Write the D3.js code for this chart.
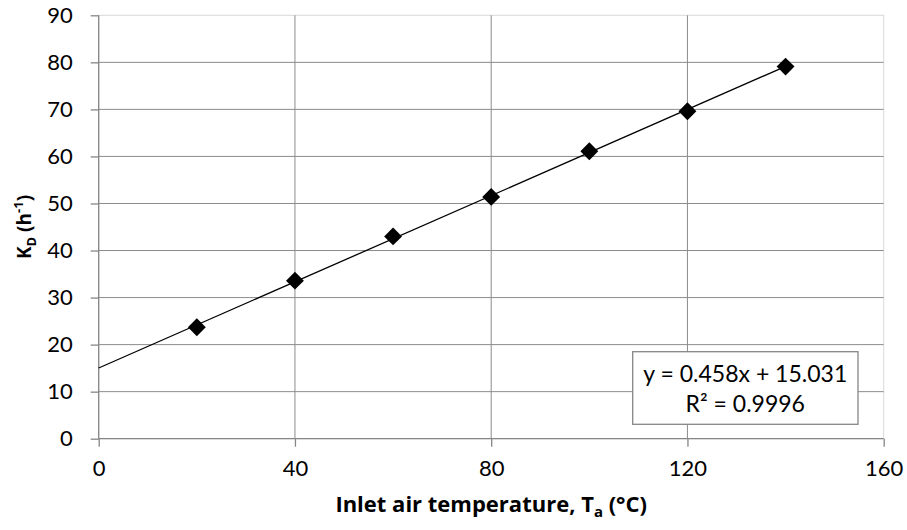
<!DOCTYPE html>
<html>
<head>
<meta charset="utf-8">
<script src="https://cdn.jsdelivr.net/npm/d3@7"></script>
<style>
  body { margin: 0; background: #fff; }
  svg { display: block; font-family: Lato, "Open Sans", sans-serif; }
</style>
</head>
<body>
<div id="chart"></div>
<script>
/* data */
const tempC = [20, 40, 60, 80, 100, 120, 140];
const kD = [23.7, 33.6, 43.0, 51.4, 61.1, 69.6, 79.1];
const fitSlope = 0.458;
const fitIntercept = 15.031;
const fitRange = [0, 140];
const xTicks = [0, 40, 80, 120, 160];
const yTicks = [0, 10, 20, 30, 40, 50, 60, 70, 80, 90];
const eqLines = ["y = 0.458x + 15.031", "R² = 0.9996"];

const W = 907, H = 530;
const margin = { top: 15.3, right: 23.3, bottom: 91.3, left: 98.7 };
const w = W - margin.left - margin.right;
const h = H - margin.top - margin.bottom;

const svg = d3.select("#chart").append("svg")
  .attr("width", W).attr("height", H);

const g = svg.append("g").attr("transform", `translate(${margin.left},${margin.top})`);

const x = d3.scaleLinear().domain([0, 160]).range([0, w]);
const y = d3.scaleLinear().domain([0, 90]).range([h, 0]);

/* plot area border (light) */
g.append("rect").attr("x", 0).attr("y", 0).attr("width", w).attr("height", h)
  .attr("fill", "none").attr("stroke", "#d9d9d9").attr("stroke-width", 1);

/* gridlines */
g.append("g").selectAll("line").data(yTicks.filter(d => d > 0 && d < 90)).enter().append("line")
  .attr("x1", 0).attr("x2", w)
  .attr("y1", d => y(d)).attr("y2", d => y(d))
  .attr("stroke", "#8c8c8c").attr("stroke-width", 1);
g.append("g").selectAll("line").data(xTicks.filter(d => d > 0 && d < 160)).enter().append("line")
  .attr("y1", 0).attr("y2", h)
  .attr("x1", d => x(d)).attr("x2", d => x(d))
  .attr("stroke", "#8c8c8c").attr("stroke-width", 1);

/* axes */
const yAxis = g.append("g")
  .call(d3.axisLeft(y).tickValues(yTicks).tickSize(8).tickPadding(18).tickFormat(d3.format("d")));
const xAxis = g.append("g").attr("transform", `translate(0,${h})`)
  .call(d3.axisBottom(x).tickValues(xTicks).tickSize(8).tickPadding(14).tickFormat(d3.format("d")));
[xAxis, yAxis].forEach(a => {
  a.select(".domain").attr("stroke", "#868686").attr("stroke-width", 1.3);
  a.selectAll(".tick line").attr("stroke", "#868686").attr("stroke-width", 1.3);
  a.selectAll("text").style("font-size", "22px").style("fill", "#000")
    .style("font-family", "Lato, sans-serif");
});
yAxis.select(".domain").attr("d", `M0,${h}V0`);
xAxis.select(".domain").attr("d", `M0,0H${w}`);

/* trendline */
g.append("line")
  .attr("x1", x(fitRange[0])).attr("y1", y(fitSlope * fitRange[0] + fitIntercept))
  .attr("x2", x(fitRange[1])).attr("y2", y(fitSlope * fitRange[1] + fitIntercept))
  .attr("stroke", "#000").attr("stroke-width", 1.3);

/* diamond markers */
const pts = tempC.map((t, i) => ({ t, k: kD[i] }));
g.selectAll(".pt").data(pts).enter().append("path").attr("class", "pt")
  .attr("d", d3.symbol().type(d3.symbolSquare).size(160))
  .attr("transform", d => `translate(${x(d.t)},${y(d.k)}) rotate(45)`)
  .attr("fill", "#000");

/* equation box */
const box = svg.append("g").attr("transform", "translate(632.7,351.7)");
box.append("rect").attr("width", 225.3).attr("height", 72.6)
  .attr("fill", "#fff").attr("stroke", "#868686").attr("stroke-width", 1.3);
box.selectAll("text").data(eqLines).enter().append("text")
  .attr("x", 112.6).attr("y", (d, i) => 30 + i * 30)
  .attr("text-anchor", "middle")
  .style("font-size", "23px").style("fill", "#000")
  .text(d => d);

/* axis titles */
const titleFont = "'Open Sans', Lato, sans-serif";
const xt = svg.append("text")
  .attr("x", margin.left + w / 2).attr("y", 512)
  .attr("text-anchor", "middle")
  .style("font-family", titleFont)
  .style("font-size", "22px").style("font-weight", "bold");
xt.append("tspan").text("Inlet air temperature, T");
xt.append("tspan").attr("dy", 5).style("font-size", "15px").text("a");
xt.append("tspan").attr("dy", -5).text(" (°C)");

const yt = svg.append("text")
  .attr("transform", `translate(31,${margin.top + h / 2}) rotate(-90)`)
  .attr("text-anchor", "middle")
  .style("font-family", titleFont)
  .style("font-size", "19px").style("font-weight", "bold");
yt.append("tspan").text("K");
yt.append("tspan").attr("dy", 5).style("font-size", "13px").text("D");
yt.append("tspan").attr("dy", -5).text(" (h");
yt.append("tspan").attr("dy", -8).style("font-size", "13px").text("-1");
yt.append("tspan").attr("dy", 8).text(")");
</script>
</body>
</html>
